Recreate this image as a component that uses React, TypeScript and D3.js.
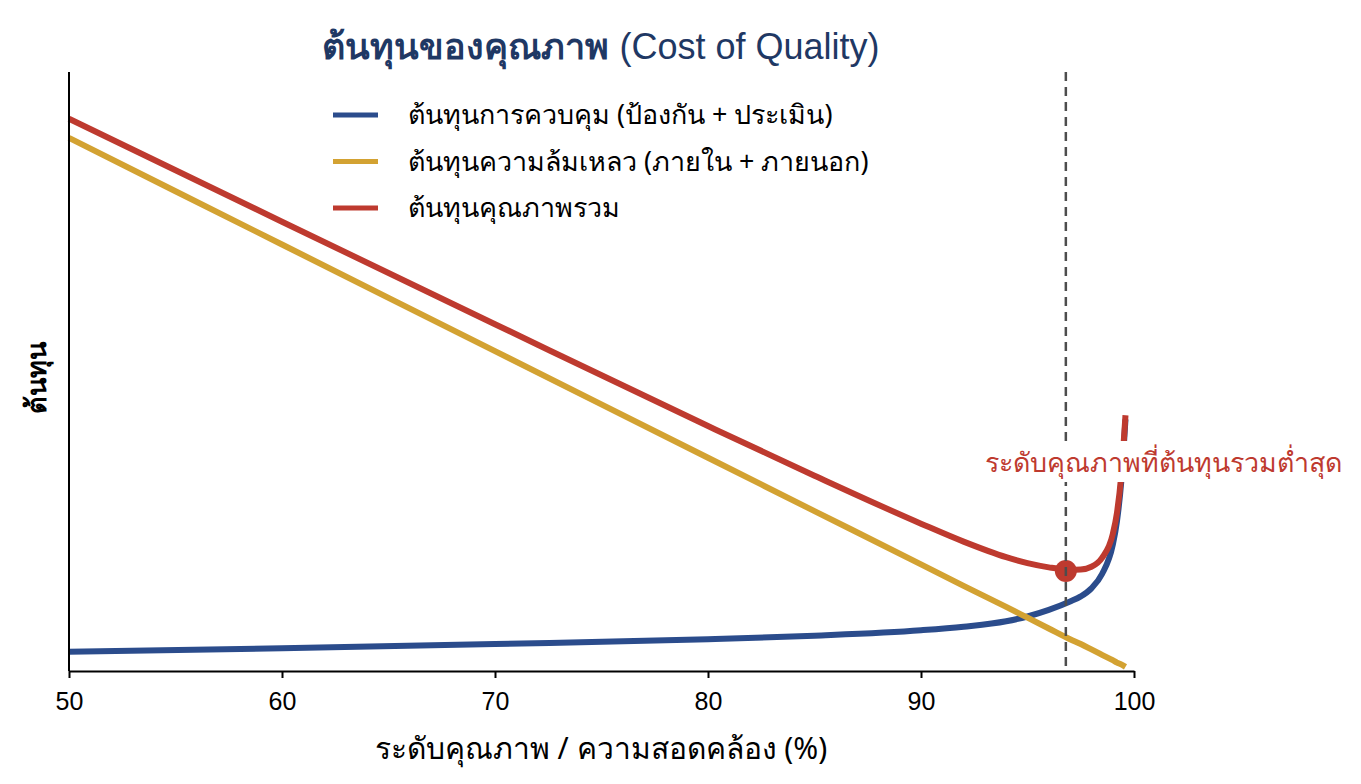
import React, { useRef, useEffect } from 'react';
import * as d3 from 'd3';

// quality level (%)
const quality = [50, 60, 70, 80, 85, 90, 92, 94, 95, 96, 97, 97.5, 98, 98.5, 99, 99.2, 99.4, 99.6];
// control cost (prevention + appraisal)
const controlCost = [3.2, 3.8, 4.5, 5.3, 5.9, 6.8, 7.4, 8.3, 9.1, 10.2, 11.6, 12.45, 13.8, 16.2, 21, 25, 31.5, 42];
// failure cost (internal + external)
const failureCost = [89, 71.2, 53.4, 35.6, 26.7, 17.8, 14.2, 10.7, 8.9, 7.1, 5.3, 4.5, 3.6, 2.7, 1.8, 1.4, 1.1, 0.7];
// total = control + failure
const totalCost = controlCost.map((c, i) => c + failureCost[i]);

const xTicks = [50, 60, 70, 80, 90, 100];
const optimum = { x: 96.8, y: 16.7 };

const seriesNames = [
  'ต้นทุนการควบคุม (ป้องกัน + ประเมิน)',
  'ต้นทุนความล้มเหลว (ภายใน + ภายนอก)',
  'ต้นทุนคุณภาพรวม',
];
const colors = ['#2B4C8C', '#D3A232', '#BE3A2F'];

const FONT = '"Noto Sans", "Liberation Sans", sans-serif';
const LATIN = '"Liberation Sans", Arial, sans-serif';

const App = () => {
  const svgRef = useRef<SVGSVGElement>(null);

  useEffect(() => {
    const svg = d3.select(svgRef.current);
    svg.selectAll('*').remove();

    const left = 69, right = 1134, top = 72, bottom = 671;

    const x = d3.scaleLinear().domain([50, 100]).range([left, right]);
    const y = d3.scaleLinear().domain([0, 100]).range([bottom, top]);

    // title
    const title = svg.append('text')
      .attr('x', 601).attr('y', 59)
      .attr('text-anchor', 'middle')
      .attr('font-family', FONT)
      .attr('font-size', 36)
      .attr('fill', '#1F3864');
    title.append('tspan').attr('font-weight', 'bold').text('ต้นทุนของคุณภาพ');
    title.append('tspan').attr('font-family', LATIN).text(' (Cost of Quality)');

    const series = [controlCost, failureCost, totalCost];
    const line = d3.line<number>()
      .x((_, i) => x(quality[i]))
      .y(d => y(d))
      .curve(d3.curveMonotoneX);

    series.forEach((s, k) => {
      svg.append('path')
        .attr('d', line(s))
        .attr('fill', 'none')
        .attr('stroke', colors[k])
        .attr('stroke-width', 6);
    });

    // optimum point
    svg.append('circle')
      .attr('cx', x(optimum.x)).attr('cy', y(optimum.y))
      .attr('r', 11)
      .attr('fill', colors[2]);

    svg.append('line')
      .attr('x1', x(optimum.x)).attr('x2', x(optimum.x))
      .attr('y1', top).attr('y2', bottom)
      .attr('stroke', '#4d4d4d')
      .attr('stroke-width', 2.5)
      .attr('stroke-dasharray', '9,6');

    // annotation with white box
    svg.append('rect')
      .attr('x', 978).attr('y', 441)
      .attr('width', 375).attr('height', 41)
      .attr('fill', 'white');
    svg.append('text')
      .attr('x', 1163).attr('y', 472)
      .attr('text-anchor', 'middle')
      .attr('font-family', FONT)
      .attr('font-size', 26.8)
      .attr('fill', colors[2])
      .text('ระดับคุณภาพที่ต้นทุนรวมต่ำสุด');

    // axes
    svg.append('line')
      .attr('x1', left).attr('x2', left)
      .attr('y1', top).attr('y2', bottom)
      .attr('stroke', 'black').attr('stroke-width', 2);

    const xAxis = svg.append('g')
      .attr('transform', `translate(0,${bottom})`)
      .call(d3.axisBottom(x).tickValues(xTicks).tickSize(7).tickSizeOuter(0).tickFormat(d3.format('d')));
    xAxis.select('.domain').attr('stroke-width', 2);
    xAxis.selectAll('.tick line').attr('stroke-width', 2);
    xAxis.selectAll('.tick text')
      .attr('font-family', LATIN)
      .attr('font-size', 25)
      .attr('fill', 'black')
      .attr('y', 39)
      .attr('dy', 0);

    svg.append('text')
      .attr('x', 601).attr('y', 759)
      .attr('text-anchor', 'middle')
      .attr('font-family', FONT)
      .attr('font-size', 30)
      .attr('fill', 'black')
      .text('ระดับคุณภาพ / ความสอดคล้อง (%)');

    svg.append('text')
      .attr('transform', 'translate(46,378) rotate(-90)')
      .attr('text-anchor', 'middle')
      .attr('font-family', FONT)
      .attr('font-size', 27)
      .attr('font-weight', 'bold')
      .attr('fill', 'black')
      .text('ต้นทุน');

    // legend
    const legend = svg.append('g');
    seriesNames.forEach((name, k) => {
      const ly = 115 + k * 46.5;
      legend.append('line')
        .attr('x1', 333).attr('x2', 378)
        .attr('y1', ly).attr('y2', ly)
        .attr('stroke', colors[k])
        .attr('stroke-width', 5);
      legend.append('text')
        .attr('x', 408).attr('y', ly + 9)
        .attr('font-family', FONT)
        .attr('font-size', 26.9)
        .attr('fill', 'black')
        .text(name);
    });
  }, []);

  return (
    <svg ref={svgRef} width={1361} height={784}
      style={{ position: 'absolute', left: 0, top: 0, background: 'white' }} />
  );
};

export default App;
